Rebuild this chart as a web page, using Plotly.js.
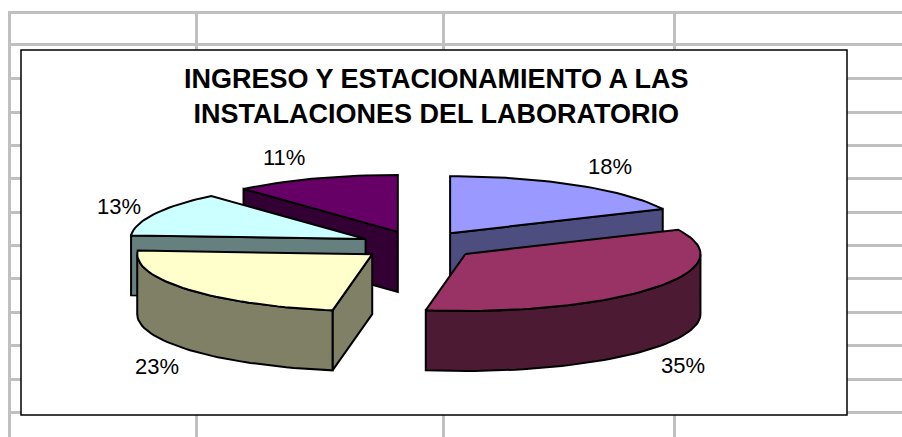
<!DOCTYPE html>
<html><head><meta charset="utf-8">
<script src="https://cdn.plot.ly/plotly-3.0.1.min.js"></script>
<style>html,body{margin:0;padding:0;background:#fff}#c{width:902px;height:437px}</style>
</head><body><div id="c"></div>
<script>
const titleText = 'INGRESO Y ESTACIONAMIENTO A LAS<br>INSTALACIONES DEL LABORATORIO';
const percents = [18.0, 34.7, 23.3, 12.6, 11.4];
const topColors = ['#9999FF', '#993366', '#FFFFCC', '#CCFFFF', '#660066'];
const sideColors = ['#4D4D80', '#4D1A33', '#808066', '#668080', '#330033'];
const labelX = [610, 683, 157, 119, 284];
const labelY = [166, 365, 366, 206, 157];
const gridX = [9.5, 196, 443, 674];
const gridY = [12.5, 44.5, 78, 112, 145, 178, 212, 245, 278, 312, 345, 379, 412];
const drawOrder = [4, 3, 2, 0, 1];

const cx = 418.5, cy = 245.3, rx = 235, ry = 57, depth = 60, explode = 59;
const total = percents.reduce((a, b) => a + b, 0);
const rad = d => d * Math.PI / 180;

let acc = 0;
const slices = percents.map(v => {
  const a0 = acc / total * 360; acc += v;
  const a1 = acc / total * 360; const m = (a0 + a1) / 2;
  return {a0, a1,
    ox: cx + explode * Math.sin(rad(m)),
    oy: cy - explode * Math.cos(rad(m)) * ry / rx * 1.0};
});
const rimPt = (s, a) => [s.ox + rx * Math.sin(rad(a)), s.oy - ry * Math.cos(rad(a))];
const arc = (s, a, b) => {
  const n = Math.max(2, Math.ceil(Math.abs(b - a) / 2)), out = [];
  for (let i = 0; i <= n; i++) out.push(rimPt(s, a + (b - a) * i / n));
  return out;
};
const traces = [];
const face = (pts, color) => {
  const c = pts.concat([pts[0]]);
  traces.push({type: 'scatter', mode: 'lines', x: c.map(p => p[0]), y: c.map(p => p[1]),
    fill: 'toself', fillcolor: color, line: {color: '#000', width: 2},
    hoverinfo: 'skip', showlegend: false});
};
const down = p => [p[0], p[1] + depth];
drawOrder.forEach(i => {
  const s = slices[i], apex = [s.ox, s.oy];
  if (Math.sin(rad(s.a0)) < -1e-6) { const r = rimPt(s, s.a0); face([apex, r, down(r), down(apex)], sideColors[i]); }
  if (Math.sin(rad(s.a1)) > 1e-6) { const r = rimPt(s, s.a1); face([apex, r, down(r), down(apex)], sideColors[i]); }
  const w0 = Math.max(s.a0, 90), w1 = Math.min(s.a1, 270);
  if (w1 > w0) { const e = arc(s, w0, w1); face(e.concat(e.slice().reverse().map(down)), sideColors[i]); }
  face([apex].concat(arc(s, s.a0, s.a1)), topColors[i]);
});

const annotations = percents.map((v, i) => ({
  x: labelX[i], y: labelY[i], xref: 'x', yref: 'y', text: Math.round(v) + '%', showarrow: false,
  font: {family: 'Liberation Sans, Arial, sans-serif', size: 22, color: '#000'}
}));
annotations.push({x: 436, y: 96, xref: 'x', yref: 'y', text: titleText, showarrow: false, align: 'center',
  font: {family: 'Liberation Sans, Arial, sans-serif', size: 27, color: '#000', weight: 700}});

const axisBase = {showticklabels: false, ticks: '', showline: false, zeroline: false,
  showgrid: true, gridcolor: '#C0C0C0', gridwidth: 3, tickmode: 'array', fixedrange: true};
Plotly.newPlot('c', traces, {
  width: 902, height: 437, margin: {l: 8, r: 0, t: 11, b: 0},
  paper_bgcolor: '#fff', plot_bgcolor: '#fff', showlegend: false,
  xaxis: Object.assign({}, axisBase, {range: [8, 902], tickvals: gridX}),
  yaxis: Object.assign({}, axisBase, {range: [437, 11], tickvals: gridY}),
  shapes: [{type: 'rect', layer: 'between', xref: 'x', yref: 'y', x0: 21, x1: 847, y0: 50, y1: 415,
    fillcolor: '#fff', line: {color: '#000', width: 1.5}}],
  annotations
}, {displayModeBar: false, staticPlot: true});
</script></body></html>
